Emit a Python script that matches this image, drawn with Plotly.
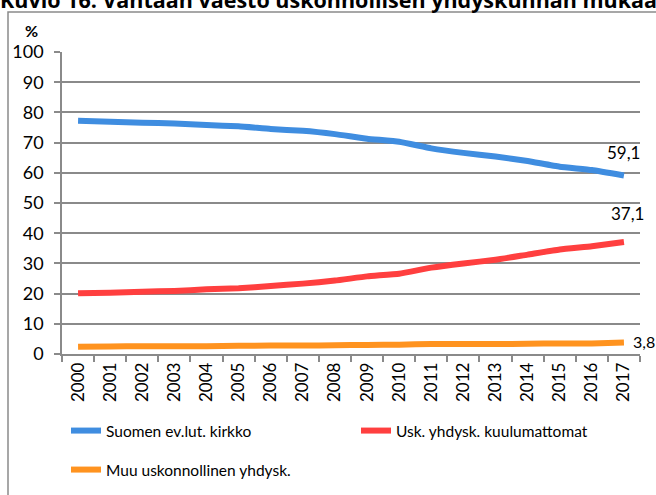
import plotly.graph_objects as go

# ── Data ──────────────────────────────────────────────────────────────────────

years = [str(y) for y in range(2000, 2018)]

ev_lut = [77.2, 76.9, 76.6, 76.3, 75.8, 75.4, 74.5, 73.9, 72.8,
          71.3, 70.3, 68.1, 66.6, 65.4, 63.9, 62.0, 60.9, 59.1]
no_religion = [20.1, 20.3, 20.6, 20.9, 21.4, 21.8, 22.5, 23.3, 24.3,
               25.7, 26.6, 28.6, 30.0, 31.2, 32.9, 34.6, 35.7, 37.1]
other_religion = [2.4, 2.5, 2.6, 2.6, 2.6, 2.7, 2.8, 2.8, 2.9,
                  3.0, 3.1, 3.3, 3.3, 3.3, 3.4, 3.5, 3.5, 3.8]

series_names = ["Suomen ev.lut. kirkko", "Usk. yhdysk. kuulumattomat",
                "Muu uskonnollinen yhdysk."]
end_labels = ["59,1", "37,1", "3,8"]
y_ticks = list(range(0, 101, 10))

title_text = "Kuvio 16. Vantaan väestö uskonnollisen yhdyskunnan mukaan"

# ── Theme ─────────────────────────────────────────────────────────────────────

_FONT = "Lato, 'Open Sans', sans-serif"
_GRID = "#8a8a8a"
_BLUE = "#3f8de0"
_RED = "#ff3f3f"
_ORANGE = "#ff931f"

# plot area in pixels: x 62..640, y 52..354
W, H = 656, 495
L, R, T, B = 62, 16, 52, 141
PW, PH = W - L - R, H - T - B


def px_x(p):
    return (p - L) / PW


def px_y(p):
    return (H - B - p) / PH


fig = go.Figure()
for name, vals, color, leg in [
    (series_names[0], ev_lut, _BLUE, "legend"),
    (series_names[1], no_religion, _RED, "legend2"),
    (series_names[2], other_religion, _ORANGE, "legend3"),
]:
    fig.add_trace(go.Scatter(
        x=years, y=vals, mode="lines", name=name,
        line=dict(color=color, width=6, shape="spline", smoothing=0.4),
        legend=leg, showlegend=True,
    ))

# value labels at the last year (category index of the last year)
last = len(years) - 1
fig.add_annotation(x=last, y=ev_lut[-1], text=end_labels[0],
                   showarrow=False, yshift=23, font=dict(size=17))
fig.add_annotation(x=last, y=no_religion[-1], text=end_labels[1],
                   showarrow=False, yshift=28, xshift=4, font=dict(size=17))
fig.add_annotation(x=last, y=other_religion[-1], text=end_labels[2],
                   showarrow=False, xanchor="left", xshift=7, yshift=1,
                   font=dict(size=16))

# clipped figure caption and the % unit
fig.add_annotation(xref="paper", yref="paper", x=px_x(-2), y=px_y(-1),
                   xanchor="left", yanchor="middle", showarrow=False,
                   text=f"<b>{title_text}</b>",
                   font=dict(size=21.5, family="'Open Sans', sans-serif"))
fig.add_annotation(xref="paper", yref="paper", x=px_x(31), y=px_y(30),
                   xanchor="center", yanchor="middle",
                   showarrow=False, text="<b>%</b>", font=dict(size=16))

# outer chart frame
fig.add_shape(type="rect", xref="paper", yref="paper",
              x0=px_x(8), x1=1.3, y0=-1, y1=px_y(12),
              line=dict(color=_GRID, width=1.5), layer="below")

legend_common = dict(orientation="h", xanchor="left", yanchor="middle",
                     font=dict(size=15.5), bgcolor="rgba(0,0,0,0)")

fig.update_layout(
    width=W, height=H,
    template="plotly_white",
    paper_bgcolor="white", plot_bgcolor="white",
    font=dict(family=_FONT, size=17, color="black"),
    margin=dict(l=L, r=R, t=T, b=B, autoexpand=False),
    showlegend=True,
    legend=dict(x=px_x(66), y=px_y(431), **legend_common),
    legend2=dict(x=px_x(356), y=px_y(431), **legend_common),
    legend3=dict(x=px_x(66), y=px_y(470), **legend_common),
    xaxis=dict(
        type="category", tickson="boundaries", ticks="outside", ticklen=6,
        tickcolor=_GRID, tickwidth=1.5, tickangle=-90, showgrid=False,
        showline=True, linecolor=_GRID, linewidth=1.5,
        tickfont=dict(size=17), range=[-0.5, 17.5],
    ),
    yaxis=dict(
        range=[0, 100], tickvals=y_ticks, ticks="outside", ticklen=6,
        tickcolor=_GRID, tickwidth=1.5, gridcolor=_GRID, gridwidth=1.5,
        showline=True, linecolor=_GRID, linewidth=1.5, zeroline=False,
        tickfont=dict(size=18), ticklabelstandoff=7,
    ),
)

# the page body has a default 8px margin; drop it so the chart sits at 0,0
fig.write_html("out.html", config={"displayModeBar": False},
               post_script="document.body.style.margin = '0';")
